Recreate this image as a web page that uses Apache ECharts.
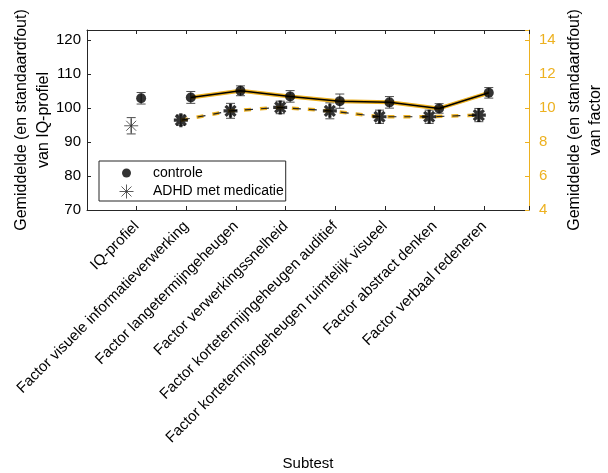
<!DOCTYPE html>
<html><head><meta charset="utf-8">
<script src="https://cdn.jsdelivr.net/npm/echarts@6/dist/echarts.min.js"></script>
<style>html,body{margin:0;padding:0;background:#fff}#c{width:608px;height:473px}</style>
</head><body><div id="c"></div>
<script>
const categories = ['IQ-profiel','Factor visuele informatieverwerking','Factor langetermijngeheugen','Factor verwerkingssnelheid','Factor kortetermijngeheugen auditief','Factor kortetermijngeheugen ruimtelijk visueel','Factor abstract denken','Factor verbaal redeneren'];
const iqControle = [102.9];
const iqControleErr = [1.7];
const iqADHD = [94.8];
const iqADHDErr = [2.4];
const factorControle = [10.63, 11.02, 10.69, 10.41, 10.34, 9.98, 10.90];
const factorControleErr = [0.35, 0.29, 0.34, 0.42, 0.34, 0.28, 0.31];
const factorADHD = [9.29, 9.84, 10.04, 9.84, 9.49, 9.49, 9.59];
const factorADHDErr = [0.30, 0.44, 0.37, 0.47, 0.39, 0.39, 0.39];
const leftTicks = [70, 80, 90, 100, 110, 120];
const rightTicks = [4, 6, 8, 10, 12, 14];

const OFF_C = 0.09, OFF_A = -0.11;
const ORANGE = '#EDB120', DARK = '#262626';
const FONT = 'Liberation Sans, Arial, sans-serif';
const starPath = 'path://M10 0L10 20M0 10L20 10M2.9 2.9L17.1 17.1M17.1 2.9L2.9 17.1';
const legendDot = 'path://M0 0M20 20M16.4 10A6.4 6.4 0 1 1 3.6 10A6.4 6.4 0 1 1 16.4 10Z';

const iqC = iqControle.map((v,i)=>[i+OFF_C, v, iqControleErr[i]]);
const iqA = iqADHD.map((v,i)=>[i+OFF_A, v, iqADHDErr[i]]);
const fC = factorControle.map((v,i)=>[i+1+OFF_C, v, factorControleErr[i]]);
const fA = factorADHD.map((v,i)=>[i+1+OFF_A, v, factorADHDErr[i]]);

function errBar(params, api){
  const x = api.value(0), y = api.value(1), e = api.value(2);
  const top = api.coord([x, y+e]), bot = api.coord([x, y-e]);
  const w = 4.5;
  const st = {stroke:'#4d4d4d', lineWidth:1};
  return {type:'group', children:[
    {type:'line', shape:{x1:top[0],y1:top[1],x2:bot[0],y2:bot[1]}, style:st},
    {type:'line', shape:{x1:top[0]-w,y1:top[1],x2:top[0]+w,y2:top[1]}, style:st},
    {type:'line', shape:{x1:bot[0]-w,y1:bot[1],x2:bot[0]+w,y2:bot[1]}, style:st}
  ]};
}

const chart = echarts.init(document.getElementById('c'));
chart.setOption({
  animation:false,
  textStyle:{fontFamily:FONT},
  grid:{left:87, right:79, top:30, bottom:263, containLabel:false, outerBoundsMode:'none'},
  legend:{
    left:99, top:161, orient:'vertical', itemGap:4, padding:[5,2,2,20],
    itemWidth:43, itemHeight:14, borderColor:DARK, borderWidth:1,
    textStyle:{fontFamily:FONT, fontSize:14, color:'#000'},
    data:[
      {name:'controle', icon:legendDot, itemStyle:{color:'#000', borderWidth:0}},
      {name:'ADHD met medicatie', icon:starPath, itemStyle:{color:'rgba(0,0,0,0)', borderColor:'#333', borderWidth:1}}
    ]
  },
  xAxis:[{
    type:'value', min:-1, max:7.9, interval:1,
    name:'Subtest', nameLocation:'middle', nameGap:246, nameMoveOverlap:false,
    nameTextStyle:{fontFamily:FONT, fontSize:15, color:'#000'},
    axisLine:{show:true, onZero:false, lineStyle:{color:DARK}},
    axisTick:{show:true, inside:true, length:4, lineStyle:{color:DARK}},
    splitLine:{show:false},
    axisLabel:{rotate:45, fontFamily:FONT, fontSize:15, color:'#000', margin:14,
      showMinLabel:true, showMaxLabel:true,
      formatter:v=>{const i=Math.round(v); return (Math.abs(v-i)<1e-6 && i>=0 && i<categories.length)?categories[i]:'';}}
  },{
    type:'value', position:'top', min:-1, max:7.9, interval:1,
    axisLine:{show:true, onZero:false, lineStyle:{color:DARK}},
    axisTick:{show:true, inside:true, length:4, lineStyle:{color:DARK}},
    axisLabel:{show:false}, splitLine:{show:false}
  }],
  yAxis:[{
    type:'value', min:70, max:123, interval:10, position:'left',
    name:'Gemiddelde (en standaardfout)\nvan IQ-profiel', nameLocation:'middle', nameGap:32, nameRotate:90, nameMoveOverlap:false,
    nameTextStyle:{fontFamily:FONT, fontSize:16, color:'#000', lineHeight:22},
    axisLine:{show:true, onZero:false, lineStyle:{color:DARK}},
    axisTick:{show:true, inside:true, length:4, lineStyle:{color:DARK}},
    splitLine:{show:false},
    axisLabel:{fontFamily:FONT, fontSize:15, color:'#000', margin:6,
      formatter:v=>leftTicks.includes(v)?String(v):''}
  },{
    type:'value', min:4, max:14.6, interval:2, position:'right',
    name:'Gemiddelde (en standaardfout)\nvan factor', nameLocation:'middle', nameGap:35, nameRotate:90, nameMoveOverlap:false,
    nameTextStyle:{fontFamily:FONT, fontSize:16, color:'#000', lineHeight:21},
    axisLine:{show:true, onZero:false, lineStyle:{color:ORANGE}},
    axisTick:{show:true, inside:true, length:4, lineStyle:{color:ORANGE}},
    splitLine:{show:false},
    axisLabel:{fontFamily:FONT, fontSize:15, color:ORANGE, margin:10,
      formatter:v=>rightTicks.includes(v)?String(v):''}
  }],
  series:[
    {type:'custom', yAxisIndex:0, renderItem:errBar, data:iqC.concat(iqA), z:3, silent:true},
    {type:'custom', yAxisIndex:1, renderItem:errBar, data:fC.concat(fA), z:3, silent:true},
    {type:'line', yAxisIndex:1, data:fC.map(d=>[d[0],d[1]]), symbol:'none', lineStyle:{color:ORANGE, width:4}, z:4, silent:true},
    {type:'line', yAxisIndex:1, data:fC.map(d=>[d[0],d[1]]), symbol:'none', lineStyle:{color:'#000', width:1.5}, z:5, silent:true},
    {type:'line', yAxisIndex:1, data:fA.map(d=>[d[0],d[1]]), symbol:'none', lineStyle:{color:ORANGE, width:3.5, type:[7,9], dashOffset:0}, z:4, silent:true},
    {type:'line', yAxisIndex:1, data:fA.map(d=>[d[0],d[1]]), symbol:'none', lineStyle:{color:'#222', width:1.2, type:[8,8], dashOffset:-1}, z:5, silent:true},
    {name:'controle', type:'scatter', yAxisIndex:0, data:iqC.map(d=>[d[0],d[1]]), symbol:'circle', symbolSize:10, itemStyle:{color:'#000'}, z:6},
    {name:'ADHD met medicatie', type:'scatter', yAxisIndex:0, data:iqA.map(d=>[d[0],d[1]]), symbol:starPath, symbolSize:14,
      itemStyle:{color:'rgba(0,0,0,0)', borderColor:'#333', borderWidth:1}, z:6},
    {name:'controle', type:'scatter', yAxisIndex:1, data:fC.map(d=>[d[0],d[1]]), symbol:'circle', symbolSize:10, itemStyle:{color:'#000'}, z:6},
    {name:'ADHD met medicatie', type:'scatter', yAxisIndex:1, data:fA.map(d=>[d[0],d[1]]), symbol:starPath, symbolSize:14,
      itemStyle:{color:'rgba(0,0,0,0)', borderColor:'#000', borderWidth:3.2}, z:6}
  ]
});
</script></body></html>
